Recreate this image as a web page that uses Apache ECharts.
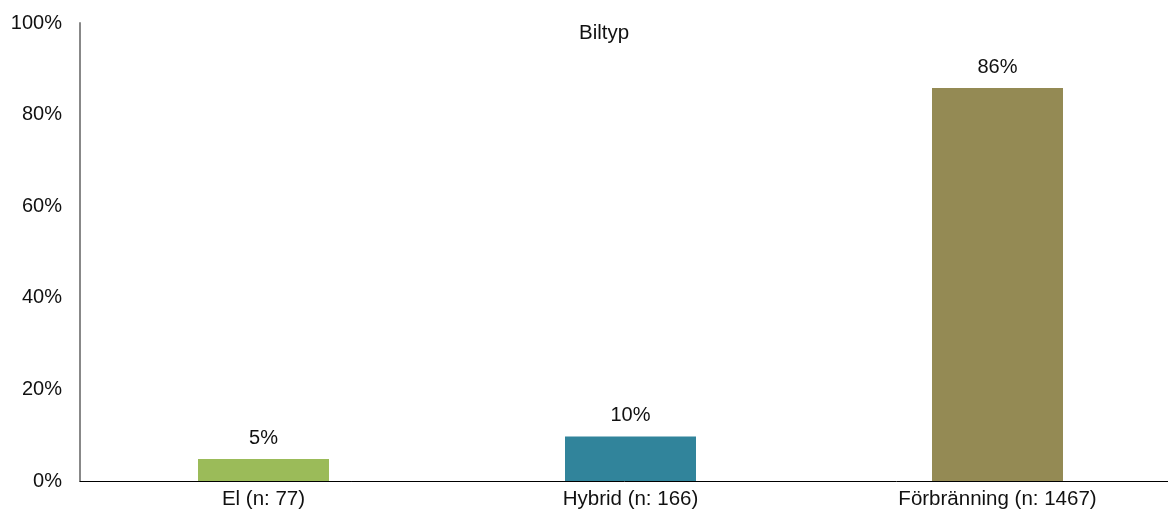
<!DOCTYPE html>
<html><head><meta charset="utf-8">
<script src="https://cdn.jsdelivr.net/npm/echarts@6/dist/echarts.min.js"></script>
<style>html,body{margin:0;padding:0;background:#fff}#c{width:1168px;height:513px}</style>
</head><body><div id="c"></div>
<script>
const categories = ["El (n: 77)", "Hybrid (n: 166)", "Förbränning (n: 1467)"];
const values = [4.8, 9.7, 85.8];
const labels = ["5%", "10%", "86%"];
const colors = ["#9BBB59", "#31849B", "#948A54"];
const yTicks = [0, 20, 40, 60, 80, 100];
const title = "Biltyp";

const font = "'Liberation Sans', Arial, Helvetica, sans-serif";
const chart = echarts.init(document.getElementById('c'));
chart.setOption({
  animation: false,
  title: { text: title, left: 574, top: 18,
    textStyle: { fontFamily: font, fontSize: 20.5, fontWeight: 'normal', color: '#111' } },
  grid: { left: 80, width: 1101, top: 23, bottom: 32, containLabel: false, outerBoundsMode: 'none' },
  xAxis: { type: 'category', data: categories,
    axisLine: { lineStyle: { color: '#000', width: 1 } },
    axisTick: { show: false },
    axisLabel: { fontFamily: font, fontSize: 20.5, color: '#111', margin: 8 } },
  yAxis: { type: 'value', min: 0, max: 100, interval: 20,
    axisLine: { show: true, lineStyle: { color: '#888', width: 2 } },
    axisTick: { show: false },
    splitLine: { show: false },
    axisLabel: { fontFamily: font, fontSize: 20, color: '#111', margin: 18,
      formatter: v => yTicks.includes(v) ? v + '%' : '' } },
  series: [{
    type: 'bar', barWidth: 131,
    data: values.map((v, i) => ({ value: v, itemStyle: { color: colors[i] } })),
    label: { show: true, position: 'top', distance: 11, fontFamily: font, fontSize: 20, color: '#111',
      formatter: p => labels[p.dataIndex] }
  }]
});
</script></body></html>
